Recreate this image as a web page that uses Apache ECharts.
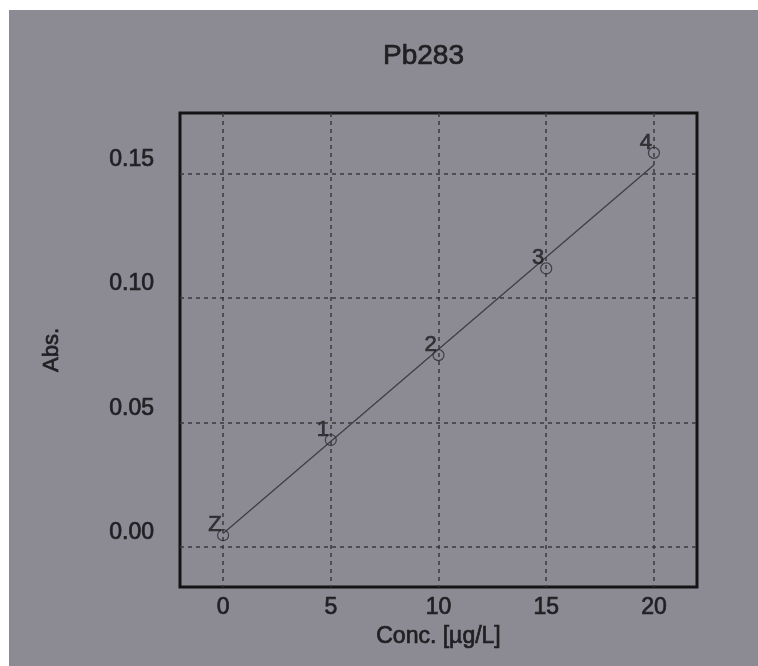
<!DOCTYPE html>
<html>
<head>
<meta charset="utf-8">
<script src="https://cdn.jsdelivr.net/npm/echarts@6/dist/echarts.min.js"></script>
<style>
html,body{margin:0;padding:0;background:#ffffff;}
#chart{width:758px;height:666px;}
</style>
</head>
<body>
<div id="chart"></div>
<script>
// ---- data ----
const conc = [0, 5, 10, 15, 20];
const absVals = [0.0047, 0.0429, 0.0770, 0.1118, 0.1582];
const pointLabels = ['Z', '1', '2', '3', '4'];
const fitX = [0, 20];
const fitY = [0.0054, 0.1533];
const xTicks = [0, 5, 10, 15, 20];
const yTicks = [0, 0.05, 0.10, 0.15];
const titleText = 'Pb283';
const xName = 'Conc. [µg/L]';
const yName = 'Abs.';

const font = "'Liberation Sans', Arial, sans-serif";
const ink = '#202024';
const gridCol = '#3a3a3e';
const heavy = {fontWeight: 'normal', color: ink, textBorderColor: ink, textBorderWidth: 0.7};

const chart = echarts.init(document.getElementById('chart'), null, {renderer: 'canvas'});
chart.setOption({
  backgroundColor: '#8c8b93',
  animation: false,
  title: {
    text: titleText,
    left: 378,
    top: 37,
    textStyle: Object.assign({fontFamily: font, fontSize: 28}, heavy)
  },
  graphic: [
    {type: 'rect', left: 0, top: 0, shape: {width: 9, height: 666}, style: {fill: '#ffffff'}, silent: true},
    {type: 'rect', left: 0, top: 0, shape: {width: 758, height: 10}, style: {fill: '#ffffff'}, silent: true}
  ],
  grid: {
    left: 180, right: 61, top: 113, bottom: 79,
    show: true, borderColor: '#141416', borderWidth: 3, backgroundColor: 'transparent'
  },
  xAxis: {
    type: 'value',
    min: -2, max: 22,
    name: xName, nameLocation: 'middle', nameGap: 38,
    nameTextStyle: Object.assign({fontFamily: font, fontSize: 23}, heavy),
    axisLine: {show: false},
    axisTick: {show: false, customValues: xTicks},
    axisLabel: Object.assign({customValues: xTicks, margin: 9, fontFamily: font, fontSize: 23}, heavy),
    splitLine: {show: true, lineStyle: {color: gridCol, width: 1.5, type: [4, 4]}}
  },
  yAxis: {
    type: 'value',
    min: -0.0161, max: 0.1742,
    name: yName, nameLocation: 'middle', nameGap: 117, nameRotate: 90,
    nameTextStyle: Object.assign({fontFamily: font, fontSize: 22}, heavy),
    axisLine: {show: false},
    axisTick: {show: false, customValues: yTicks},
    axisLabel: Object.assign({
      customValues: yTicks, margin: 26, fontFamily: font, fontSize: 23,
      verticalAlign: 'bottom', lineHeight: 28,
      formatter: v => v.toFixed(2)
    }, heavy),
    splitLine: {show: true, lineStyle: {color: gridCol, width: 1.5, type: [4, 4]}}
  },
  series: [
    {
      type: 'line',
      data: fitX.map((x, i) => [x, fitY[i]]),
      showSymbol: false,
      lineStyle: {color: '#3c3c40', width: 1.2},
      z: 2
    },
    {
      type: 'scatter',
      data: conc.map((x, i) => ({value: [x, absVals[i]], name: pointLabels[i]})),
      symbol: 'circle',
      symbolSize: 11,
      itemStyle: {color: 'rgba(0,0,0,0)', borderColor: '#2a2a2e', borderWidth: 1.2},
      label: Object.assign({
        show: true,
        position: 'inside',
        offset: [-8, -10],
        formatter: p => p.name,
        fontFamily: font, fontSize: 22
      }, heavy),
      z: 3
    }
  ]
});
</script>
</body>
</html>
